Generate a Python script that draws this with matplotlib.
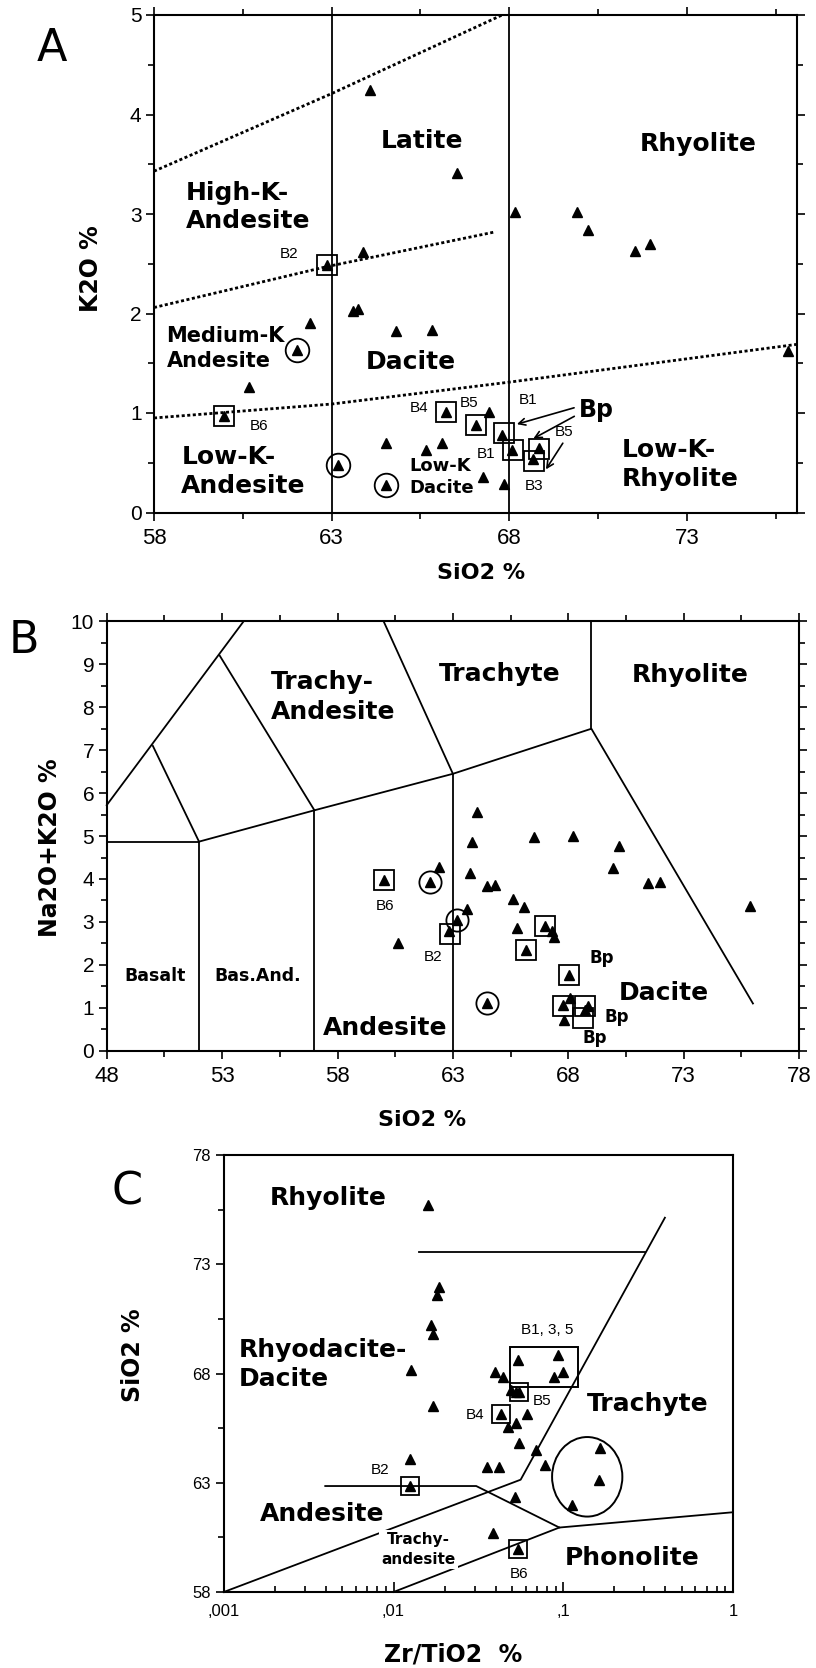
import matplotlib
matplotlib.use("Agg")
import matplotlib.pyplot as plt
import numpy as np
from matplotlib.patches import Ellipse, Rectangle
from matplotlib.ticker import FixedLocator, MultipleLocator, FuncFormatter, LogLocator, NullFormatter

plt.rcParams['font.family'] = ['DejaVu Sans']

# ---------------- panel A : K2O vs SiO2
a_sio2 = [64.07, 66.54, 68.15, 69.91, 70.23, 71.55, 71.96, 63.87, 62.87, 63.6, 63.75,
          62.39, 64.81, 65.83, 62.02, 60.67, 59.97, 75.85, 66.22, 67.44, 67.06, 67.81,
          68.08, 68.83, 68.68, 64.53, 65.65, 66.12, 63.19, 67.25, 67.86, 64.54]
a_k2o = [4.25, 3.41, 3.02, 3.02, 2.84, 2.63, 2.70, 2.62, 2.49, 2.03, 2.05,
         1.90, 1.82, 1.83, 1.63, 1.26, 0.97, 1.62, 1.01, 1.01, 0.88, 0.78,
         0.63, 0.65, 0.54, 0.70, 0.63, 0.70, 0.48, 0.36, 0.29, 0.28]
a_box_sio2 = [62.87, 59.97, 66.22, 67.06, 67.85, 68.10, 68.85, 68.71]
a_box_k2o = [2.49, 0.97, 1.01, 0.88, 0.80, 0.625, 0.64, 0.52]
a_circ_sio2 = [62.02, 63.19, 64.54]
a_circ_k2o = [1.63, 0.48, 0.28]
# dotted K-series boundaries
a_hik_x = [58, 63, 67.8]
a_hik_y = [3.43, 4.21, 5.0]
a_medk_x = [58, 62.85, 67.6]
a_medk_y = [2.06, 2.47, 2.82]
a_lowk_x = [58, 63, 68, 76.1]
a_lowk_y = [0.95, 1.09, 1.31, 1.69]
a_split_sio2 = [63, 68]
a_xticks = [58, 63, 68, 73]

# ---------------- panel B : TAS
b_sio2 = [64.06, 63.84, 66.5, 68.19, 70.2, 69.93, 71.46, 71.96, 75.86, 62.41, 63.74,
          60.02, 62.01, 64.49, 64.82, 65.59, 66.09, 63.6, 63.19, 62.84, 65.79, 66.99,
          67.28, 67.38, 60.63, 66.17, 68.03, 64.49, 68.07, 67.76, 68.72, 68.84, 67.81]
b_alk = [5.56, 4.87, 4.98, 4.99, 4.76, 4.26, 3.91, 3.93, 3.37, 4.27, 4.13,
         3.97, 3.94, 3.83, 3.87, 3.53, 3.34, 3.31, 3.04, 2.78, 2.85, 2.90,
         2.78, 2.64, 2.50, 2.35, 1.76, 1.10, 1.22, 1.06, 0.95, 1.03, 0.72]
b_box_sio2 = [60.02, 62.89, 66.99, 66.17, 68.03, 67.78, 68.73, 68.65]
b_box_alk = [3.97, 2.72, 2.90, 2.35, 1.76, 1.03, 1.03, 0.76]
b_circ_sio2 = [62.01, 63.19, 64.49]
b_circ_alk = [3.94, 3.04, 1.10]
b_xticks = [48, 53, 58, 63, 68, 73, 78]
# TAS field boundaries
tas_basalt_x = [48, 52, 52]
tas_basalt_y = [4.87, 4.87, 0]
tas_main_x = [52, 57, 63, 69, 76]
tas_main_y = [4.87, 5.6, 6.45, 7.5, 1.1]
tas_and_x = [57, 57]
tas_and_y = [0, 5.6]
tas_dac_x = [63, 63]
tas_dac_y = [0, 6.45]
tas_rhy_x = [69, 69]
tas_rhy_y = [7.5, 10]
tas_trach_x = [63, 60]
tas_trach_y = [6.45, 10]
tas_tra_x = [57, 52.9]
tas_tra_y = [5.6, 9.2]
tas_tb_x = [52, 50]
tas_tb_y = [4.87, 7.1]
tas_left_x = [48, 53.93]
tas_left_y = [5.72, 10]

# ---------------- panel C : SiO2 vs Zr/TiO2
c_zr = [0.01596, 0.01849, 0.0181, 0.0166, 0.01707, 0.01271, 0.01707, 0.01245, 0.01245,
        0.0543, 0.0935, 0.0876, 0.0999, 0.0396, 0.0444, 0.0494, 0.0528, 0.0545, 0.0428,
        0.0608, 0.0474, 0.0528, 0.0549, 0.0687, 0.0355, 0.0418, 0.0778, 0.165, 0.1616,
        0.112, 0.0522, 0.0385, 0.0542]
c_sio2 = [75.71, 71.98, 71.57, 70.2, 69.82, 68.17, 66.5, 64.1, 62.86,
          68.62, 68.85, 67.83, 68.08, 68.08, 67.85, 67.25, 67.17, 67.17, 66.14,
          66.13, 65.57, 65.72, 64.83, 64.5, 63.74, 63.74, 63.81, 64.58, 63.14,
          61.98, 62.36, 60.7, 59.95]
c_box_zr = [0.0547, 0.0428, 0.01245, 0.0542]
c_box_sio2 = [67.17, 66.14, 62.86, 59.95]
c_group_zr = [0.0486, 0.1228]
c_group_sio2 = [67.4, 69.2]
c_yticks = [58, 63, 68, 73, 78]
c_xlabels = [',001', ',01', ',1', '1']
# Winchester & Floyd boundaries
wf_rhy_x = [0.0141, 0.305]
wf_rhy_y = [73.55, 73.55]
wf_trach_x = [0.001, 0.0561, 0.397]
wf_trach_y = [58, 63.14, 75.13]
wf_and_x = [0.00396, 0.0307, 0.0948, 1.0]
wf_and_y = [62.85, 62.85, 60.95, 61.65]
wf_ta_x = [0.0948, 0.01]
wf_ta_y = [60.95, 58]

W, H = 816, 1668
fig = plt.figure(figsize=(W / 100, H / 100), dpi=100)

def frame(ax):
    for s in ax.spines.values():
        s.set_linewidth(1.5)
    ax.tick_params(which='both', direction='out', top=True, right=True, width=1.2,
                   labelfontfamily='Liberation Sans')
    ax.tick_params(which='major', length=6)
    ax.tick_params(which='minor', length=4)

def points(ax, x, y, bx, by, cx, cy, box=15, circ=17):
    ax.plot(x, y, '^', color='black', ms=7.5, ls='none', zorder=4)
    ax.plot(bx, by, 's', mfc='none', mec='black', mew=1.3, ms=box, ls='none', zorder=3)
    if cx:
        ax.plot(cx, cy, 'o', mfc='none', mec='black', mew=1.3, ms=circ, ls='none', zorder=3)

big = dict(fontsize=18, fontweight='bold')
small = dict(fontsize=11, family='Liberation Sans')

# ================= A
axA = fig.add_axes([154 / W, 1 - 512.5 / H, 643 / W, 497.5 / H])
frame(axA)
axA.set_xlim(58, 76.1)
axA.set_ylim(0, 5)
axA.xaxis.set_major_locator(FixedLocator(a_xticks))
axA.xaxis.set_minor_locator(FixedLocator([t + 2.5 for t in a_xticks]))
axA.yaxis.set_major_locator(MultipleLocator(1))
axA.yaxis.set_minor_locator(MultipleLocator(0.5))
axA.tick_params(axis='x', labelsize=16, pad=5)
axA.tick_params(axis='y', labelsize=15, pad=3)
for xv in a_split_sio2:
    axA.axvline(xv, color='black', lw=1.3)
for xs, ys in [(a_hik_x, a_hik_y), (a_medk_x, a_medk_y), (a_lowk_x, a_lowk_y)]:
    axA.plot(xs, ys, color='black', lw=2, ls=(0, (1.1, 0.9)))
points(axA, a_sio2, a_k2o, a_box_sio2, a_box_k2o, a_circ_sio2, a_circ_k2o)

axA.text(65.54, 3.73, 'Latite', ha='center', va='center', **big)
axA.text(73.31, 3.70, 'Rhyolite', ha='center', va='center', **big)
axA.text(58.9, 3.07, 'High-K-\nAndesite', ha='left', va='center', linespacing=1.25, **big)
axA.text(58.35, 1.65, 'Medium-K\nAndesite', ha='left', va='center', fontsize=15,
         fontweight='bold', linespacing=1.3)
axA.text(65.22, 1.51, 'Dacite', ha='center', va='center', **big)
axA.text(58.77, 0.41, 'Low-K-\nAndesite', ha='left', va='center', linespacing=1.25, **big)
axA.text(65.19, 0.36, 'Low-K\nDacite', ha='left', va='center', fontsize=13,
         fontweight='bold', linespacing=1.3)
axA.text(71.18, 0.48, 'Low-K-\nRhyolite', ha='left', va='center', linespacing=1.25, **big)
axA.text(69.97, 1.03, 'Bp', ha='left', va='center', fontsize=17, fontweight='bold')
for txt, xv, yv in [('B2', 62.06, 2.60), ('B6', 60.96, 0.87), ('B4', 65.46, 1.05),
                    ('B5', 66.87, 1.10), ('B1', 68.52, 1.13), ('B5', 69.55, 0.81),
                    ('B1', 67.34, 0.59), ('B3', 68.70, 0.27)]:
    axA.text(xv, yv, txt, ha='right' if txt == 'B2' else 'center', va='center', **small)
arrow = dict(arrowstyle='->', lw=1.2, color='black', mutation_scale=12)
axA.annotate('', xy=(68.14, 0.88), xytext=(69.9, 1.06), arrowprops=arrow)
axA.annotate('', xy=(68.61, 0.73), xytext=(69.9, 0.98), arrowprops=arrow)
axA.annotate('', xy=(68.99, 0.41), xytext=(69.55, 0.72), arrowprops=arrow)

axA.set_xlabel('SiO2 %', fontsize=16, fontweight='bold', va='center')
axA.xaxis.set_label_coords(0.509, -0.1226)
axA.set_ylabel('K2O %', fontsize=17, fontweight='bold', va='center')
axA.yaxis.set_label_coords(-0.098, 0.491)

# ================= B
axB = fig.add_axes([106.7 / W, 1 - 1050.7 / H, 692.4 / W, 429.3 / H])
frame(axB)
axB.set_xlim(48, 78)
axB.set_ylim(0, 10)
axB.xaxis.set_major_locator(FixedLocator(b_xticks))
axB.xaxis.set_minor_locator(FixedLocator([t + 2.5 for t in b_xticks[:-1]]))
axB.yaxis.set_major_locator(MultipleLocator(1))
axB.yaxis.set_minor_locator(MultipleLocator(0.5))
axB.tick_params(axis='x', labelsize=16, pad=5)
axB.tick_params(axis='y', labelsize=15, pad=3)
for xs, ys in [(tas_basalt_x, tas_basalt_y), (tas_main_x, tas_main_y), (tas_and_x, tas_and_y),
               (tas_dac_x, tas_dac_y), (tas_rhy_x, tas_rhy_y), (tas_trach_x, tas_trach_y),
               (tas_tra_x, tas_tra_y), (tas_tb_x, tas_tb_y), (tas_left_x, tas_left_y)]:
    axB.plot(xs, ys, color='black', lw=1.3, clip_on=False)
points(axB, b_sio2, b_alk, b_box_sio2, b_box_alk, b_circ_sio2, b_circ_alk, box=15, circ=16)

axB.text(55.1, 8.24, 'Trachy-\nAndesite', ha='left', va='center', linespacing=1.3, **big)
axB.text(65.03, 8.78, 'Trachyte', ha='center', va='center', **big)
axB.text(73.26, 8.74, 'Rhyolite', ha='center', va='center', **big)
axB.text(50.08, 1.73, 'Basalt', ha='center', va='center', fontsize=12.5, fontweight='bold')
axB.text(54.54, 1.73, 'Bas.And.', ha='center', va='center', fontsize=12.5, fontweight='bold')
axB.text(60.07, 0.54, 'Andesite', ha='center', va='center', **big)
axB.text(72.13, 1.35, 'Dacite', ha='center', va='center', **big)
axB.text(60.07, 3.37, 'B6', ha='center', va='center', **small)
axB.text(62.15, 2.19, 'B2', ha='center', va='center', **small)
for xv, yv in [(69.45, 2.15), (70.1, 0.79), (69.16, 0.29)]:
    axB.text(xv, yv, 'Bp', ha='center', va='center', fontsize=12, fontweight='bold')

axB.set_xlabel('SiO2 %', fontsize=16, fontweight='bold', va='center')
axB.xaxis.set_label_coords(0.455, -0.161)
axB.set_ylabel('Na2O+K2O %', fontsize=17, fontweight='bold', va='center')
axB.yaxis.set_label_coords(-0.0826, 0.474)

# ================= C
axC = fig.add_axes([223.8 / W, 1 - 1592 / H, 509.2 / W, 437 / H])
for s in axC.spines.values():
    s.set_linewidth(1.5)
axC.set_xscale('log')
axC.set_xlim(0.001, 1)
axC.set_ylim(58, 78)
axC.yaxis.set_major_locator(FixedLocator(c_yticks))
axC.yaxis.set_minor_locator(FixedLocator([t + 2.5 for t in c_yticks[:-1]]))
axC.xaxis.set_major_locator(FixedLocator([0.001, 0.01, 0.1, 1.0]))
axC.xaxis.set_minor_locator(LogLocator(base=10, subs=np.arange(2, 10)))
axC.xaxis.set_minor_formatter(NullFormatter())
axC.xaxis.set_major_formatter(FuncFormatter(lambda v, p: c_xlabels[p] if p is not None else ''))
axC.tick_params(axis='x', which='both', direction='in', top=False, width=1.2,
                labelsize=12, pad=9, labelfontfamily='Liberation Sans')
axC.tick_params(axis='x', which='major', length=7)
axC.tick_params(axis='x', which='minor', length=4)
axC.tick_params(axis='y', which='both', direction='out', right=False, width=1.2,
                labelsize=12, labelfontfamily='Liberation Sans')
axC.tick_params(axis='y', which='major', length=6)
axC.tick_params(axis='y', which='minor', length=4)

for xs, ys in [(wf_rhy_x, wf_rhy_y), (wf_trach_x, wf_trach_y), (wf_and_x, wf_and_y),
               (wf_ta_x, wf_ta_y)]:
    axC.plot(xs, ys, color='black', lw=1.3, clip_on=False)
axC.plot(c_zr, c_sio2, '^', color='black', ms=7.5, ls='none', zorder=4)
axC.plot(c_box_zr, c_box_sio2, 's', mfc='none', mec='black', mew=1.3, ms=13, ls='none', zorder=3)
axC.add_patch(Rectangle((c_group_zr[0], c_group_sio2[0]), c_group_zr[1] - c_group_zr[0],
                        c_group_sio2[1] - c_group_sio2[0], fill=False, lw=1.4, ec='black'))
axC.add_patch(Ellipse((0.7137, 0.2636), 0.138, 0.182, transform=axC.transAxes,
                      fill=False, lw=1.4, ec='black'))

axC.text(0.00411, 76.04, 'Rhyolite', ha='center', va='center', **big)
axC.text(0.00122, 68.41, 'Rhyodacite-\nDacite', ha='left', va='center', linespacing=1.3, **big)
axC.text(0.316, 66.59, 'Trachyte', ha='center', va='center', **big)
axC.text(0.00378, 61.58, 'Andesite', ha='center', va='center', **big)
axC.text(0.0141, 59.95, 'Trachy-\nandesite', ha='center', va='center', fontsize=11,
         fontweight='bold', linespacing=1.4,
         bbox=dict(boxstyle='square,pad=0.15', fc='white', ec='none'))
axC.text(0.256, 59.54, 'Phonolite', ha='center', va='center', **big)
for txt, xv, yv in [('B1, 3, 5', 0.0809, 69.99), ('B5', 0.0754, 66.72), ('B4', 0.0301, 66.09),
                    ('B2', 0.0083, 63.6), ('B6', 0.0549, 58.84)]:
    axC.text(xv, yv, txt, ha='center', va='center', **small)

axC.set_xlabel('Zr/TiO2  %', fontsize=17, fontweight='bold', va='center')
axC.xaxis.set_label_coords(0.45, -0.144)
axC.set_ylabel('SiO2 %', fontsize=17, fontweight='bold', va='center')
axC.yaxis.set_label_coords(-0.178, 0.541)

for letter, fx, fy in [('A', 0.0637, 0.9712), ('B', 0.0287, 0.6163), ('C', 0.156, 0.2854)]:
    fig.text(fx, fy, letter, fontsize=32, ha='center', va='center')

fig.savefig('out.png', dpi=100)
